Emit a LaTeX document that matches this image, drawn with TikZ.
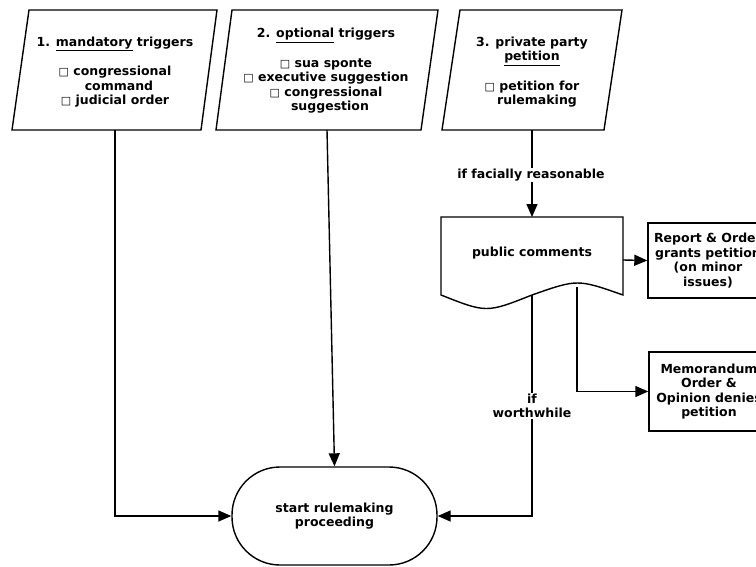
\documentclass[tikz,border=0pt]{standalone}
\usepackage{fontspec}
\setmainfont{DejaVu Sans}
\usetikzlibrary{arrows.meta}
\newcommand{\sqbox}{{\fontsize{11}{11}\selectfont □}}
\begin{document}
\begin{tikzpicture}[x=1pt,y=-1pt,
  line width=1.4pt,
  every node/.style={font=\fontsize{12.5}{14.6}\selectfont\bfseries, align=center, inner sep=1pt},
  flow/.style={-{Triangle[length=13pt,width=11pt]}},
  box/.style={draw, minimum width=120pt, inner sep=0pt},
  lbl/.style={fill=white, inner sep=1pt}]
\clip (0,0) rectangle (756,566);

% trigger parallelograms
\draw (29,10) -- (217,10) -- (201,130) -- (12,130) -- cycle;
\draw (232,10) -- (438,10) -- (421,130) -- (216,130) -- cycle;
\draw (460,10) -- (622,10) -- (604,130) -- (442,130) -- cycle;

\node (t1) at (115,72) {1. \underline{mandatory} triggers\\[14.6pt]
  \sqbox\ congressional\\ \hspace*{8pt}command\\ \sqbox\ judicial order};
\node (t2) at (326,71) {2. \underline{optional} triggers\\[14.6pt]
  \sqbox\ sua sponte\\ \sqbox\ executive suggestion\\ \sqbox\ congressional\\ \hspace*{8pt}suggestion};
\node (t3) at (532,72) {3. private party\\ \underline{petition}\\[14.6pt]
  \sqbox\ petition for\\ \hspace*{10pt}rulemaking};

\coordinate (b1) at (115,130);
\coordinate (b2) at (327,130);
\coordinate (b3) at (532,130);

% public comments document shape
\draw (441,217) -- (623,217) -- (623,295)
  .. controls (577.5,279) .. (532,295)
  .. controls (486.5,313) .. (441,295) -- cycle;
\node (pc) at (532,253) {public comments};
\coordinate (pctop) at (532,217);
\coordinate (pcright) at (623,260);
\coordinate (pcbot) at (532,295);
\coordinate (pcbot2) at (577,287);

% outcome boxes
\node[box, minimum height=75pt] (ro) at (708,260.5) {Report \& Order\\grants petition\\(on minor\\issues)};
\node[box, minimum height=79pt] (mo) at (709,391.5) {Memorandum\\Order \&\\Opinion denies\\petition};

% terminal
\node[draw, minimum width=205pt, minimum height=98pt, rounded corners=48pt] (start) at (334.5,516)
  {start rulemaking\\proceeding};

% connectors
\draw[flow] (b1) |- (start.west);
\draw[flow] (b2) -- (start.north);
\draw[flow] (b3) -- (pctop);
\node[lbl] (fr) at (531,175) {if facially reasonable};
\draw[flow] (pcright) -- (ro.west);
\draw[flow] (pcbot2) |- (mo.west);
\draw[flow] (pcbot) |- (start.east);
\node[lbl] (ww) at (532,406) {if\\worthwhile};
\end{tikzpicture}
\end{document}
